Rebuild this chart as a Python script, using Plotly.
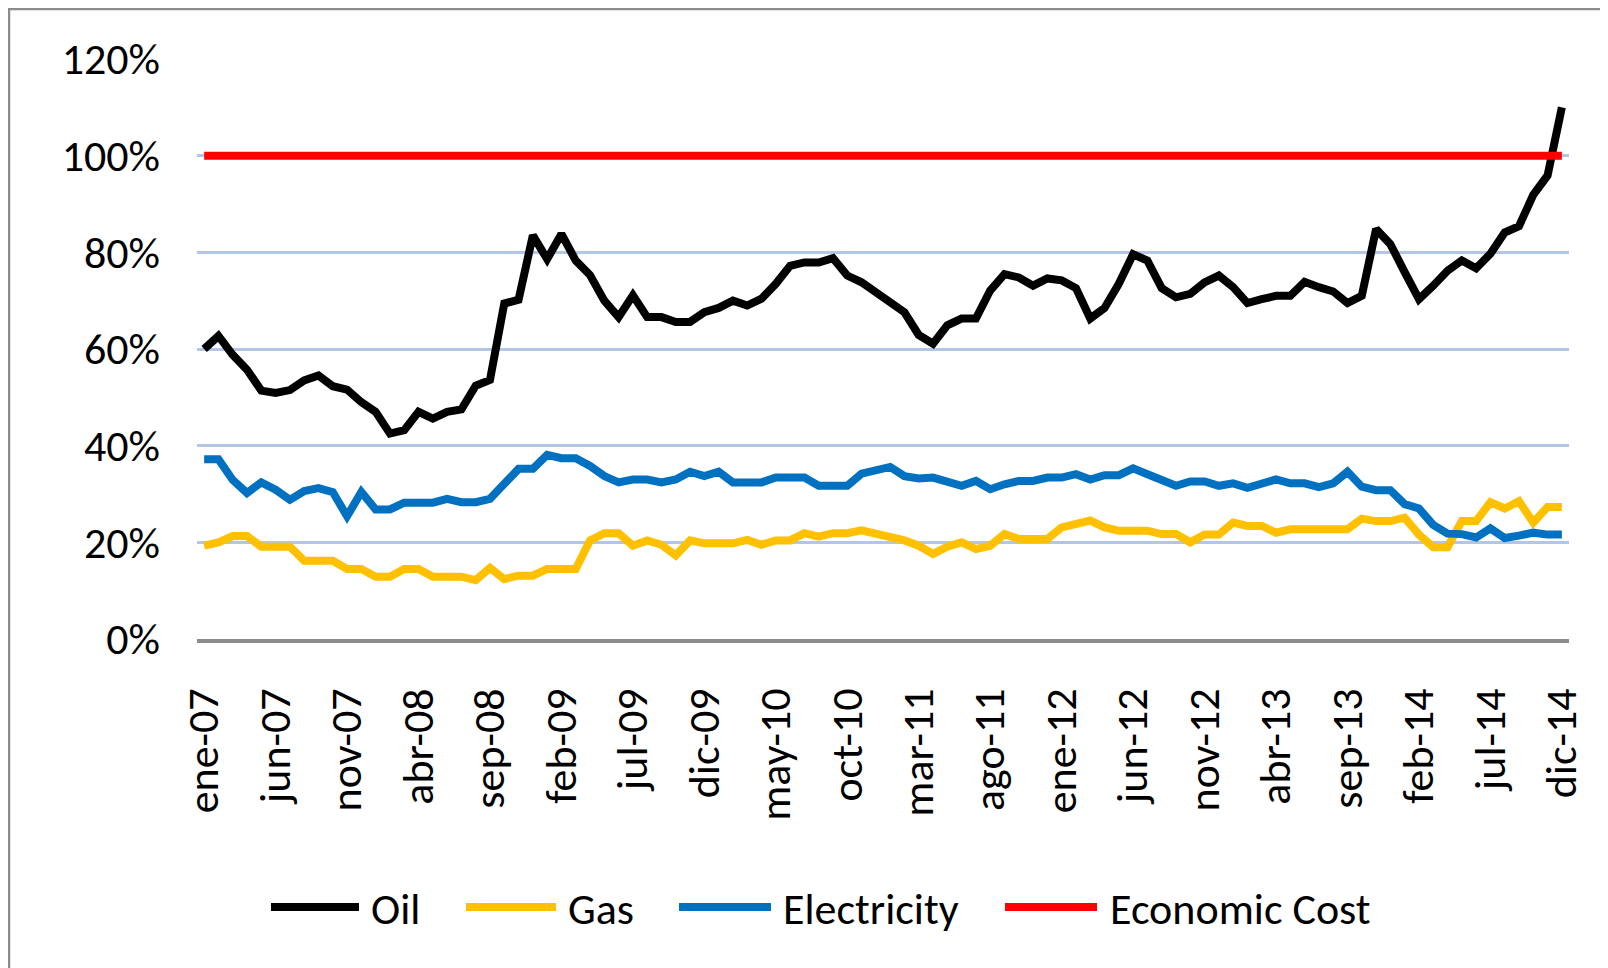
import plotly.graph_objects as go

# Month labels (Spanish abbreviations), ene-07 .. dic-14
MONTHS = ["ene", "feb", "mar", "abr", "may", "jun",
          "jul", "ago", "sep", "oct", "nov", "dic"]
YEARS = ["07", "08", "09", "10", "11", "12", "13", "14"]
periods = [f"{m}-{y}" for y in YEARS for m in MONTHS]
tick_labels = periods[::5]

y_ticks = [0, 20, 40, 60, 80, 100, 120]
y_tick_text = [f"{v}%" for v in y_ticks]

# Series values (%)
oil = [
    60.0, 62.7, 58.8, 55.7, 51.4, 50.9, 51.5, 53.5, 54.5, 52.3, 51.6, 49.0,
    47.0, 42.5, 43.2, 47.0, 45.6, 47.0, 47.5, 52.4, 53.6, 69.4, 70.2, 83.5,
    78.6, 83.8, 78.3, 75.3, 70.0, 66.6, 71.1, 66.6, 66.6, 65.6, 65.6, 67.6,
    68.5, 70.0, 69.0, 70.4, 73.5, 77.2, 77.9, 77.9, 78.8, 75.2, 73.8, 71.8,
    70.0, 67.6, 62.9, 61.1, 64.9, 66.3, 66.3, 72.1, 75.5, 74.8, 73.1, 74.6,
    74.2, 72.6, 66.3, 68.5, 73.5, 79.6, 78.3, 72.6, 70.7, 71.4, 73.8, 75.2,
    72.8, 69.5, 70.3, 71.0, 71.0, 73.9, 72.8, 71.9, 69.5, 71.0, 84.8, 81.7,
    75.9, 70.3, 73.1, 76.2, 78.3, 76.7, 79.7, 84.1, 85.4, 91.9, 95.9, 110.0,
]
gas = [
    19.3, 20.0, 21.3, 21.3, 19.1, 19.1, 19.1, 16.2, 16.2, 16.2, 14.5, 14.5,
    12.9, 12.9, 14.5, 14.5, 12.9, 12.9, 12.9, 12.2, 14.7, 12.4, 13.1, 13.1,
    14.5, 14.5, 14.5, 20.4, 21.9, 21.9, 19.3, 20.4, 19.5, 17.3, 20.4, 19.8,
    19.8, 19.8, 20.5, 19.5, 20.4, 20.4, 21.9, 21.2, 21.9, 21.9, 22.5, 21.9,
    21.2, 20.4, 19.3, 17.6, 19.1, 20.0, 18.6, 19.3, 21.7, 20.7, 20.7, 20.7,
    23.1, 23.8, 24.5, 23.1, 22.4, 22.4, 22.4, 21.7, 21.7, 20.0, 21.6, 21.6,
    24.1, 23.4, 23.4, 22.0, 22.7, 22.7, 22.7, 22.7, 22.7, 24.9, 24.4, 24.4,
    25.1, 21.6, 19.0, 19.0, 24.4, 24.4, 28.3, 27.0, 28.5, 24.1, 27.3, 27.3,
]
electricity = [
    37.2, 37.2, 32.9, 30.2, 32.4, 30.9, 28.8, 30.6, 31.2, 30.4, 25.4, 30.4,
    26.8, 26.8, 28.2, 28.2, 28.2, 29.0, 28.3, 28.3, 29.0, 32.1, 35.2, 35.2,
    38.1, 37.4, 37.4, 35.8, 33.7, 32.4, 33.0, 33.0, 32.4, 33.0, 34.6, 33.7,
    34.6, 32.4, 32.4, 32.4, 33.4, 33.4, 33.4, 31.7, 31.7, 31.7, 34.2, 34.9,
    35.6, 33.7, 33.2, 33.4, 32.7, 31.7, 32.7, 31.0, 32.0, 32.7, 32.7, 33.4,
    33.4, 34.1, 33.0, 33.9, 33.9, 35.3, 34.1, 32.7, 31.7, 32.6, 32.6, 31.7,
    32.2, 31.3, 32.3, 33.0, 32.2, 32.2, 31.4, 32.2, 34.6, 31.5, 30.8, 30.8,
    27.9, 27.0, 23.6, 21.8, 21.7, 21.0, 22.9, 20.9, 21.4, 22.0, 21.6, 21.6,
]
economic_cost = [100.0] * len(periods)

series_names = ["Oil", "Gas", "Electricity", "Economic Cost"]
series_values = [oil, gas, electricity, economic_cost]
series_colors = ["#000000", "#FFC000", "#0070C0", "#FF0000"]

FONT = "Carlito, Lato, sans-serif"
FONT_SIZE = 44
LINE_W = 8

# The page body has an 8px margin, so the figure is drawn at (8, 8)
OFF = 8
FIG_W, FIG_H = 1600, 960
# Plot area in page pixels
L, R, T, B = 197, 1569, 59, 639
W, H = R - L, B - T


def px_x(p):
    return (p - L) / W


def px_y(p):
    return (B - p) / H


fig = go.Figure()
for name, vals, col in zip(series_names, series_values, series_colors):
    fig.add_trace(go.Scatter(
        x=periods, y=vals, name=name, mode="lines",
        line=dict(color=col, width=LINE_W), showlegend=False,
    ))

# Hand-built legend (long line samples like the original)
legend_items = [(271, 359, 369), (466, 556, 566), (679, 771, 781), (1005, 1097, 1108)]
for (x0, x1, xt), name, col in zip(legend_items, series_names, series_colors):
    fig.add_shape(type="line", xref="paper", yref="paper",
                  x0=px_x(x0), x1=px_x(x1), y0=px_y(907), y1=px_y(907),
                  line=dict(color=col, width=LINE_W))
    fig.add_annotation(xref="paper", yref="paper", x=px_x(xt), y=px_y(909),
                       text=name, showarrow=False, xanchor="left", yanchor="middle",
                       font=dict(family=FONT, size=FONT_SIZE, color="#000000"))

# Chart-area frame
fig.add_shape(type="rect", xref="paper", yref="paper",
              x0=px_x(9), x1=px_x(1630), y0=px_y(1000), y1=px_y(9),
              line=dict(color="#8C8C8C", width=2.5), layer="below")

fig.update_layout(
    width=FIG_W, height=FIG_H,
    margin=dict(l=L - OFF, r=FIG_W + OFF - R, t=T - OFF, b=FIG_H + OFF - B),
    paper_bgcolor="white", plot_bgcolor="white",
    font=dict(family=FONT, size=FONT_SIZE, color="#000000"),
    showlegend=False,
)
fig.update_xaxes(
    type="category", range=[-0.5, len(periods) - 0.5],
    tickvals=tick_labels, ticktext=tick_labels, tickangle=-90,
    showgrid=False, showline=True, linecolor="#8C8C8C", linewidth=3.5,
    ticks="", ticklabelstandoff=28,
    tickfont=dict(family=FONT, size=FONT_SIZE, color="#000000"),
)
fig.update_yaxes(
    range=[0, 120], tickvals=y_ticks, ticktext=y_tick_text,
    showgrid=True, gridcolor="#B4C6E7", gridwidth=2.5, zeroline=False,
    showline=False, ticks="", ticklabelstandoff=36,
    tickfont=dict(family=FONT, size=FONT_SIZE, color="#000000"),
)

fig.write_html("out.html")
